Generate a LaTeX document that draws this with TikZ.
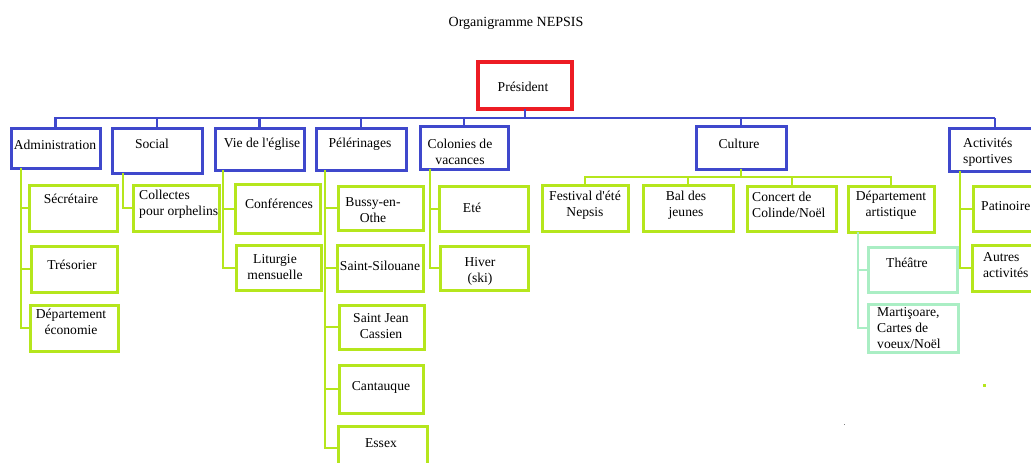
\documentclass[tikz,border=0pt]{standalone}
\usepackage{fontspec}
\setmainfont{Liberation Serif}[Ligatures=TeXOff]
\definecolor{cblue}{RGB}{63,72,204}
\definecolor{cgreen}{RGB}{181,230,29}
\definecolor{cred}{RGB}{237,28,36}
\definecolor{cmint}{RGB}{170,238,196}
\tikzset{
  orgbox/.style={draw, inner sep=0pt, outer sep=0pt, anchor=north west, line width=3pt, fill=white},
  bluebox/.style={orgbox, draw=cblue},
  greenbox/.style={orgbox, draw=cgreen},
  mintbox/.style={orgbox, draw=cmint},
  redbox/.style={orgbox, draw=cred, line width=4pt},
  txt/.style={font=\fontsize{13.6}{16}\selectfont, inner sep=0pt, align=center, text=black},
  txtl/.style={txt, align=left, anchor=west},
  blueline/.style={draw=cblue, line width=2.5pt},
  greenline/.style={draw=cgreen, line width=2pt},
  mintline/.style={draw=cmint, line width=2pt}
}
\begin{document}
\begin{tikzpicture}[x=1pt,y=-1pt]
\useasboundingbox[fill=white] (0,0) rectangle (1031,463);
\clip (0,0) rectangle (1031,463);

\node[font=\fontsize{14}{16}\selectfont, inner sep=0pt] (title) at (516,23) {Organigramme NEPSIS};

% connector coordinates
\coordinate (busL) at (54,118);
\coordinate (busR) at (995,118);
\coordinate (admV) at (21,168);
\coordinate (socV) at (123,173);
\coordinate (vieV) at (223,170);
\coordinate (pelV) at (325,170);
\coordinate (colV) at (430,169);
\coordinate (cbus) at (739,177);
\coordinate (dartV) at (858,232);
\coordinate (spoV) at (960,171);

% level 0 and 1 boxes
\node[redbox, minimum width=94pt, minimum height=47pt] (pres) at (478,62) {};
\node[bluebox, minimum width=89pt, minimum height=40pt] (adm) at (11,128) {};
\node[bluebox, minimum width=90pt, minimum height=45pt] (soc) at (112,128) {};
\node[bluebox, minimum width=89pt, minimum height=42pt] (vie) at (215,128) {};
\node[bluebox, minimum width=90pt, minimum height=42pt] (pel) at (316,128) {};
\node[bluebox, minimum width=88pt, minimum height=43pt] (col) at (420,126) {};
\node[bluebox, minimum width=90pt, minimum height=43pt] (cul) at (696,126) {};
\node[bluebox, minimum width=92pt, minimum height=43pt] (spo) at (949,128) {};

% bus and drops
\draw[blueline] (busL) -- (busR);
\draw[blueline] (pres.south) -- (pres.south |- busL);
\draw[blueline] (adm.north) -- (adm.north |- busL);
\draw[blueline] (soc.north) -- (soc.north |- busL);
\draw[blueline] (vie.north) -- (vie.north |- busL);
\draw[blueline] (pel.north) -- (pel.north |- busL);
\draw[blueline] (col.north) -- (col.north |- busL);
\draw[blueline] (cul.north) -- (cul.north |- busL);
\draw[blueline] (spo.north) -- (spo.north |- busL);

% level 2 boxes
\node[greenbox, minimum width=88pt, minimum height=46pt] (sec) at (29,185) {};
\node[greenbox, minimum width=86pt, minimum height=46pt] (tre) at (31,246) {};
\node[greenbox, minimum width=88pt, minimum height=46pt] (eco) at (30,305) {};
\node[greenbox, minimum width=86pt, minimum height=46pt] (coll) at (133,185) {};
\node[greenbox, minimum width=85pt, minimum height=49pt] (conf) at (235,184) {};
\node[greenbox, minimum width=85pt, minimum height=45pt] (lit) at (236,245) {};
\node[greenbox, minimum width=85pt, minimum height=44pt] (bus) at (338,186) {};
\node[greenbox, minimum width=86pt, minimum height=46pt] (sil) at (337,245) {};
\node[greenbox, minimum width=85pt, minimum height=44pt] (sjc) at (339,305) {};
\node[greenbox, minimum width=84pt, minimum height=48pt] (can) at (339,365) {};
\node[greenbox, minimum width=89pt, minimum height=44pt] (ess) at (338,426) {};
\node[greenbox, minimum width=89pt, minimum height=45pt] (ete) at (439,186) {};
\node[greenbox, minimum width=88pt, minimum height=44pt] (hiv) at (440,246) {};
\node[greenbox, minimum width=86pt, minimum height=46pt] (fest) at (542,185) {};
\node[greenbox, minimum width=90pt, minimum height=46pt] (bal) at (643,185) {};
\node[greenbox, minimum width=89pt, minimum height=45pt] (conc) at (747,186) {};
\node[greenbox, minimum width=86pt, minimum height=46pt] (dart) at (848,186) {};
\node[greenbox, minimum width=70pt, minimum height=45pt] (pat) at (973,186) {};
\node[greenbox, minimum width=70pt, minimum height=46pt] (aut) at (972,245) {};

% level 3 boxes
\node[mintbox, minimum width=89pt, minimum height=45pt] (the) at (868,247) {};
\node[mintbox, minimum width=90pt, minimum height=48pt] (mar) at (868,304) {};

% green connectors
\draw[greenline] (admV) |- (sec.west);
\draw[greenline] (admV) |- (tre.west);
\draw[greenline] (admV) |- (eco.west);
\draw[greenline] (socV) |- (coll.west);
\draw[greenline] (vieV) |- (conf.west);
\draw[greenline] (vieV) |- (lit.west);
\draw[greenline] (pelV) |- (bus.west);
\draw[greenline] (pelV) |- (sil.west);
\draw[greenline] (pelV) |- (sjc.west);
\draw[greenline] (pelV) |- (can.west);
\draw[greenline] (pelV) |- (ess.west);
\draw[greenline] (colV) |- (ete.west);
\draw[greenline] (colV) |- (hiv.west);
\draw[greenline] (cul.south) -- (cul.south |- cbus);
\draw[greenline] (fest.north) -- (fest.north |- cbus) -- (dart.north |- cbus) -- (dart.north);
\draw[greenline] (bal.north) -- (bal.north |- cbus);
\draw[greenline] (conc.north) -- (conc.north |- cbus);
\draw[greenline] (spoV) |- (pat.west);
\draw[greenline] (spoV) |- (aut.west);
\draw[mintline] (dartV) |- (the.west);
\draw[mintline] (dartV) |- (mar.west);

% texts
\node[txt] (presT) at (523,87) {Président};
\node[txt] (admT) at (55,145) {Administration};
\node[txt] (socT) at (152,144) {Social};
\node[txt] (vieT) at (262,144) {Vie de l'église};
\node[txt] (pelT) at (360,144) {Pélérinages};
\node[txt] (colT) at (460,152) {Colonies de\\vacances};
\node[txt] (culT) at (739,144) {Culture};
\node[txtl] (spoT) at (963,152) {Activités\\sportives};

\node[txt] (secT) at (71,199) {Sécrétaire};
\node[txt] (treT) at (72,265) {Trésorier};
\node[txt] (ecoT) at (71,322) {Département\\économie};
\node[txtl] (collT) at (139,204.5) {Collectes\\pour orphelins};
\node[txt] (confT) at (279,204) {Conférences};
\node[txt] (litT) at (275,267) {Liturgie\\mensuelle};
\node[txt] (busT) at (373,210) {Bussy-en-\\Othe};
\node[txt] (silT) at (380,266) {Saint-Silouane};
\node[txt] (sjcT) at (381,326) {Saint Jean\\Cassien};
\node[txt] (canT) at (381,387) {Cantauque};
\node[txt] (essT) at (381,443) {Essex};
\node[txt] (eteT) at (472,208) {Eté};
\node[txt] (hivT) at (480,271.5) {Hiver\\(ski)};
\node[txt] (festT) at (585,205) {Festival d'été\\Nepsis};
\node[txt] (balT) at (686,205) {Bal des\\jeunes};
\node[txtl] (concT) at (752,205) {Concert de\\Colinde/Noël};
\node[txt] (dartT) at (891,205) {Département\\artistique};
\node[txtl] (patT) at (981,206) {Patinoire};
\node[txtl] (autT) at (983,265.5) {Autres\\activités};
\node[txt] (theT) at (907,263) {Théâtre};
\node[txtl] (marT) at (877,328) {Martişoare,\\Cartes de\\voeux/Noël};

% stray dots
\fill[cgreen] (983,384) rectangle (986,387);
\fill[gray] (843.5,423.5) rectangle (845,425);
\end{tikzpicture}
\end{document}
